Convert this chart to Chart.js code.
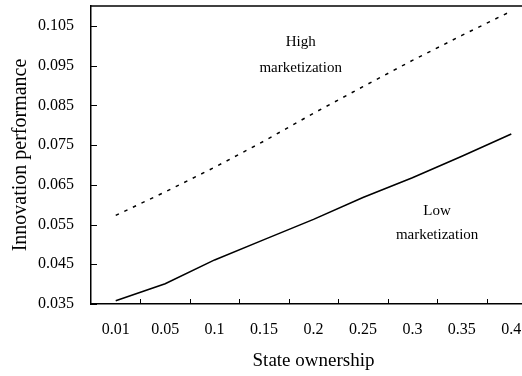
<!DOCTYPE html>
<html>
<head>
<meta charset="utf-8">
<script src="https://cdn.jsdelivr.net/npm/chart.js@4/dist/chart.umd.min.js"></script>
<style>
  html, body { margin: 0; padding: 0; background: #fff; overflow: hidden; }
  canvas { display: block; }
</style>
</head>
<body>
<canvas id="chart" width="536" height="376"></canvas>
<script>
// values
var ownership = ["0.01", "0.05", "0.1", "0.15", "0.2", "0.25", "0.3", "0.35", "0.4"];
var highMarket = [0.0573, 0.0632, 0.0694, 0.0760, 0.0830, 0.0897, 0.0963, 0.1026, 0.1087];
var lowMarket  = [0.0358, 0.0401, 0.0461, 0.0512, 0.0563, 0.0618, 0.0668, 0.0722, 0.0778];
var yTicks = [0.035, 0.045, 0.055, 0.065, 0.075, 0.085, 0.095, 0.105];

// text labels next to the lines: [x index, y value, text]
var notes = [
  [3.74, 0.1008, "High"],
  [3.74, 0.0945, "marketization"],
  [6.5, 0.0583, "Low"],
  [6.5, 0.0524, "marketization"]
];

var serif = "'Liberation Serif', 'Times New Roman', serif";

var framePlugin = {
  id: 'frame',
  afterDraw: function(chart) {
    var ctx = chart.ctx;
    var area = chart.chartArea;
    var xs = chart.scales.x, ys = chart.scales.y;
    ctx.save();
    ctx.strokeStyle = '#000';
    ctx.lineWidth = 1.5;
    // top border
    ctx.beginPath();
    ctx.moveTo(area.left, area.top);
    ctx.lineTo(area.right, area.top);
    ctx.stroke();
    ctx.lineWidth = 1;
    // inner tick marks on x axis, between categories
    for (var i = 1; i < ownership.length; i++) {
      var px = Math.round((xs.getPixelForValue(i - 1) + xs.getPixelForValue(i)) / 2) + 0.5;
      ctx.beginPath();
      ctx.moveTo(px, area.bottom);
      ctx.lineTo(px, area.bottom - 5);
      ctx.stroke();
    }
    // inner tick marks on y axis
    yTicks.forEach(function(v) {
      var py = Math.round(ys.getPixelForValue(v)) + 0.5;
      ctx.beginPath();
      ctx.moveTo(area.left, py);
      ctx.lineTo(area.left + 6, py);
      ctx.stroke();
    });
    // notes
    ctx.fillStyle = '#000';
    ctx.font = '15px ' + serif;
    ctx.textAlign = 'center';
    ctx.textBaseline = 'middle';
    notes.forEach(function(n) {
      ctx.fillText(n[2], xs.getPixelForValue(n[0]), ys.getPixelForValue(n[1]));
    });
    ctx.restore();
  }
};

new Chart(document.getElementById('chart'), {
  type: 'line',
  data: {
    labels: ownership,
    datasets: [
      {
        label: 'High marketization',
        data: highMarket,
        borderColor: '#000',
        borderWidth: 1.5,
        borderDash: [3.5, 6],
        pointRadius: 0,
        tension: 0,
        fill: false
      },
      {
        label: 'Low marketization',
        data: lowMarket,
        borderColor: '#000',
        borderWidth: 1.6,
        pointRadius: 0,
        tension: 0,
        fill: false
      }
    ]
  },
  options: {
    responsive: false,
    animation: false,
    layout: { padding: { top: 6, right: 0, left: 0, bottom: 0 } },
    plugins: {
      legend: { display: false },
      tooltip: { enabled: false }
    },
    scales: {
      x: {
        type: 'category',
        offset: true,
        grid: { display: false, offset: true, drawTicks: false },
        border: { display: true, color: '#000', width: 1.5 },
        ticks: {
          color: '#000',
          font: { family: serif, size: 16 },
          padding: 16,
          maxRotation: 0,
          autoSkip: false
        },
        title: {
          display: true,
          text: 'State ownership',
          color: '#000',
          font: { family: serif, size: 19 },
          padding: { top: 0, bottom: 4 }
        },
        afterFit: function(s) {
          s.height = 72;
          s.paddingLeft = 0;
          s.paddingRight = 0;
        }
      },
      y: {
        min: 0.035,
        max: 0.110,
        grid: { display: false, drawTicks: false },
        border: { display: true, color: '#000', width: 1.5 },
        afterBuildTicks: function(axis) {
          axis.ticks = yTicks.map(function(v) { return { value: v }; });
        },
        ticks: {
          color: '#000',
          font: { family: serif, size: 16 },
          padding: 17,
          callback: function(v) { return Number(v).toFixed(3); }
        },
        title: {
          display: true,
          text: 'Innovation performance',
          color: '#000',
          font: { family: serif, size: 20 },
          padding: { top: 9, bottom: 0 }
        },
        afterFit: function(s) {
          s.width = 91;
          s.paddingTop = 0;
          s.paddingBottom = 0;
        }
      }
    }
  },
  plugins: [framePlugin]
});
</script>
</body>
</html>
